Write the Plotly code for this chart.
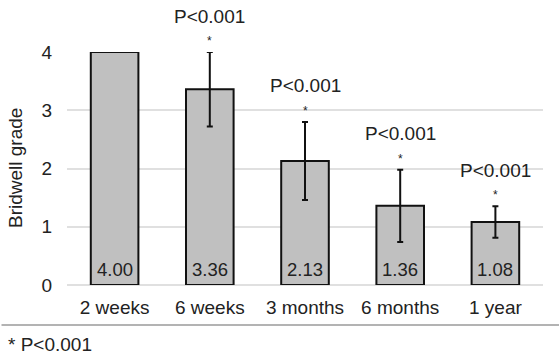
import plotly.graph_objects as go

categories = ["2 weeks", "6 weeks", "3 months", "6 months", "1 year"]
means = [4.00, 3.36, 2.13, 1.36, 1.08]
sds = [0.0, 0.64, 0.67, 0.62, 0.27]
pvals = ["", "P<0.001", "P<0.001", "P<0.001", "P<0.001"]
ytick_vals = [0, 1, 2, 3, 4]

FONT = "Liberation Sans, Arial, Helvetica, sans-serif"
TXT = "#222222"
L, R, T, B = 67, 17, 52, 76
W, H = 560, 361
pw = W - L - R
ph = H - T - B

fig = go.Figure()
fig.add_trace(go.Bar(
    x=categories, y=means,
    marker=dict(color="#c0c0c0", line=dict(color="#111111", width=2)),
    error_y=dict(type="data", array=sds, visible=True, color="#111111",
                 thickness=2, width=3),
    hoverinfo="skip",
))

for c, m in zip(categories, means):
    fig.add_annotation(x=c, y=0, text=f"{m:.2f}", showarrow=False,
                       yanchor="bottom", yshift=3,
                       font=dict(family=FONT, size=18.5, color=TXT))

for c, m, s, p in zip(categories, means, sds, pvals):
    if not p:
        continue
    fig.add_annotation(x=c, y=m + s, text="*", showarrow=False,
                       yanchor="middle", yshift=11,
                       font=dict(family=FONT, size=12, color=TXT))
    fig.add_annotation(x=c, y=m + s, text=p, showarrow=False,
                       yanchor="middle", yshift=36,
                       font=dict(family=FONT, size=19, color=TXT))

# y-axis title
fig.add_annotation(xref="paper", yref="paper", x=(15.5 - L) / pw, y=0.5,
                   xanchor="center", yanchor="middle", textangle=-90,
                   text="Bridwell grade", showarrow=False,
                   font=dict(family=FONT, size=19, color=TXT))

# separator line (drawn as an arrow-less annotation line) and footnote
sep_y = (285 - 325) / ph
fig.add_annotation(xref="paper", yref="paper", x=(W - L) / pw, y=sep_y,
                   text=" ", showarrow=True, arrowhead=0, arrowwidth=1.5,
                   arrowcolor="#9a9a9a", axref="pixel", ayref="pixel",
                   ax=-W, ay=0, standoff=0, startstandoff=0,
                   font=dict(size=1))
fig.add_annotation(xref="paper", yref="paper", x=(6 - L) / pw,
                   y=(285 - 345) / ph, xanchor="left", yanchor="middle",
                   text="* P<0.001", showarrow=False,
                   font=dict(family=FONT, size=19, color=TXT))

fig.update_layout(
    width=W, height=H,
    margin=dict(l=L, r=R, t=T, b=B, pad=0),
    paper_bgcolor="white", plot_bgcolor="white",
    showlegend=False, bargap=0.5,
    font=dict(family=FONT, size=19, color=TXT),
    xaxis=dict(showline=False, ticks="", tickfont=dict(size=19),
               ticklabelstandoff=9, automargin=False),
    yaxis=dict(range=[0, 4], tickvals=ytick_vals, showgrid=True,
               gridcolor="#e0e0e0", gridwidth=1.5, zeroline=True,
               zerolinecolor="#e0e0e0", zerolinewidth=1.5,
               ticks="", ticklabelstandoff=14, tickfont=dict(size=19),
               automargin=False),
)

fig.write_html("out.html", config={"displayModeBar": False},
               post_script="document.body.style.margin='0';")
